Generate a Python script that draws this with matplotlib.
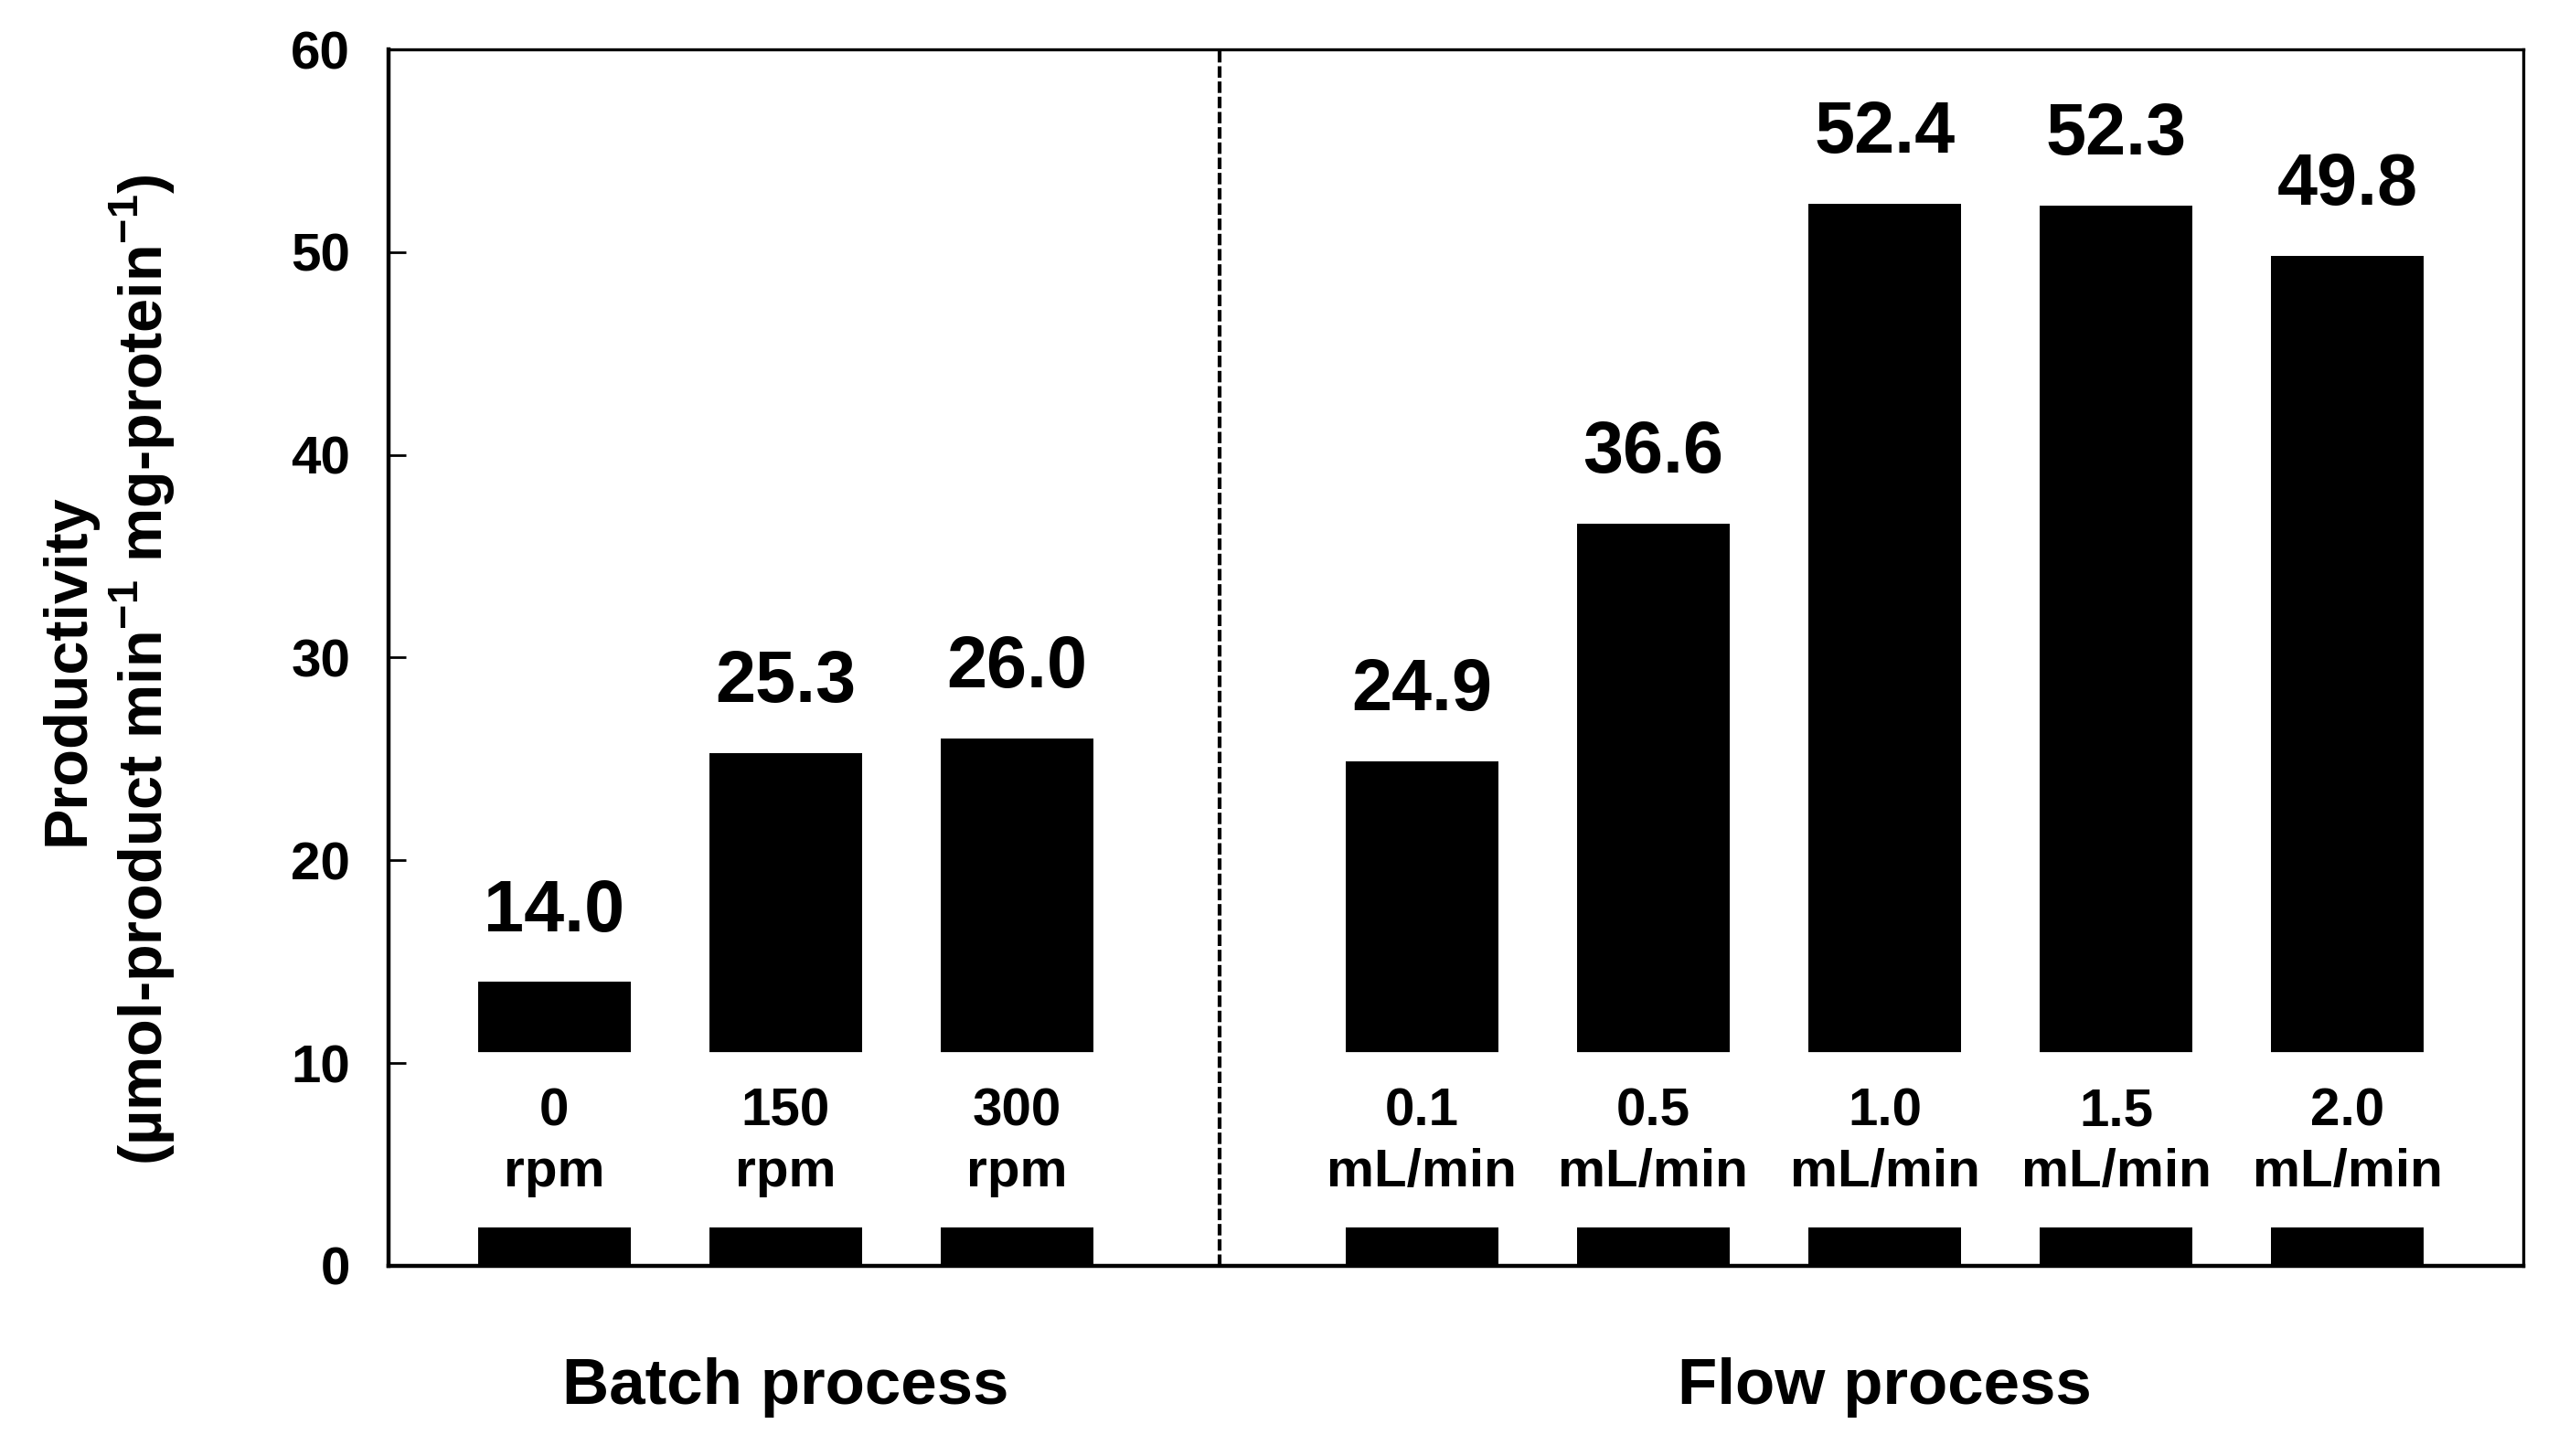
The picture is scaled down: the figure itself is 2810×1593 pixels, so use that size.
import matplotlib.pyplot as plt
import numpy as np

plt.rcParams['font.family'] = ['Liberation Sans', 'DejaVu Sans']
plt.rcParams['font.weight'] = 'bold'
plt.rcParams['mathtext.fontset'] = 'custom'
plt.rcParams['mathtext.rm'] = 'Liberation Sans:bold'
plt.rcParams['mathtext.bf'] = 'Liberation Sans:bold'

# data
batch_labels = ['0\nrpm', '150\nrpm', '300\nrpm']
batch_values = [14.0, 25.3, 26.0]
flow_labels = ['0.1\nmL/min', '0.5\nmL/min', '1.0\nmL/min', '1.5\nmL/min', '2.0\nmL/min']
flow_values = [24.9, 36.6, 52.4, 52.3, 49.8]
group_labels = ['Batch process', 'Flow process']
yticks = [0, 10, 20, 30, 40, 50, 60]

# positions: batch bars, then a gap, then flow bars
batch_x = np.arange(len(batch_values))
flow_x = np.arange(len(flow_values)) + 3.75
divider_x = (batch_x[-1] + flow_x[0]) / 2

fig = plt.figure(figsize=(14.05, 7.965), dpi=200)
ax = fig.add_axes([0.1512, 0.1306, 0.831, 0.8355])

w = 0.66
ax.bar(batch_x, batch_values, width=w, color='black', zorder=1)
ax.bar(flow_x, flow_values, width=w, color='black', zorder=1)

# white band that breaks the bars, with the condition labels in it
ax.axhspan(2.0, 10.5, color='white', zorder=1.2)
for x, lab in zip(list(batch_x) + list(flow_x), batch_labels + flow_labels):
    ax.text(x, 6.1, lab, ha='center', va='center', fontsize=21,
            fontweight='bold', linespacing=1.28, zorder=3)

# value labels
for x, v in zip(list(batch_x) + list(flow_x), batch_values + flow_values):
    ax.annotate(f'{v:.1f}', (x, v), xytext=(0, 14), textcoords='offset points',
                ha='center', va='bottom', fontsize=28.5, fontweight='bold')

ax.axvline(divider_x, color='black', lw=1.5, ls=(0, (3, 1)), zorder=2)

ax.set_xlim(-0.717, 8.51)
ax.set_ylim(0, 60)
ax.set_yticks(yticks)
ax.set_xticks([])
ax.tick_params(axis='y', direction='in', length=7, width=1, pad=15, labelsize=21)
for t in ax.get_yticklabels():
    t.set_fontweight('bold')
for s in ['left', 'bottom']:
    ax.spines[s].set_linewidth(1.6)
for s in ['top', 'right']:
    ax.spines[s].set_linewidth(1.2)

ax.text(-0.131, 0.49, 'Productivity\n(µmol-product min$^{-1}$ mg-protein$^{-1}$)',
        transform=ax.transAxes, rotation=90, ha='center', va='center',
        fontsize=24, fontweight='bold', linespacing=1.2, multialignment='center')

ax.text(batch_x.mean(), -6.0, group_labels[0], ha='center', va='center',
        fontsize=25.5, fontweight='bold')
ax.text(flow_x.mean(), -6.0, group_labels[1], ha='center', va='center',
        fontsize=25.5, fontweight='bold')

fig.savefig('out.png', dpi=200)
